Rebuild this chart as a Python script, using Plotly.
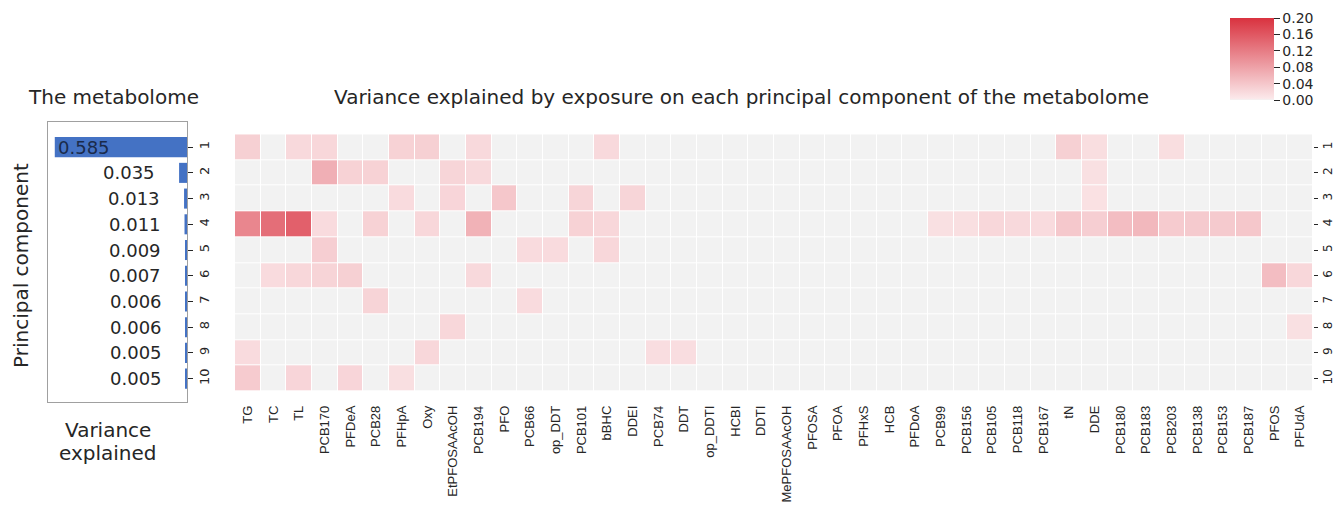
import plotly.graph_objects as go

# ---------------- data ----------------
exposures = ["TG", "TC", "TL", "PCB170", "PFDeA", "PCB28",
             "PFHpA", "Oxy", "EtPFOSAAcOH", "PCB194", "PFO", "PCB66",
             "op_DDT", "PCB101", "bBHC", "DDEI", "PCB74", "DDT",
             "op_DDTI", "HCBI", "DDTI", "MePFOSAAcOH", "PFOSA", "PFOA",
             "PFHxS", "HCB", "PFDoA", "PCB99", "PCB156", "PCB105",
             "PCB118", "PCB167", "tN", "DDE", "PCB180", "PCB183",
             "PCB203", "PCB138", "PCB153", "PCB187", "PFOS", "PFUdA"]

components = [1, 2, 3, 4, 5, 6, 7, 8, 9, 10]
variance_explained = [0.585, 0.035, 0.013, 0.011, 0.009, 0.007, 0.006, 0.006, 0.005, 0.005]
variance_labels = ["0.585", "0.035", "0.013", "0.011", "0.009", "0.007", "0.006", "0.006", "0.005", "0.005"]

pc1 = [.030, 0, .020, .022, 0, 0,
       .028, .030, 0, .020, 0, 0,
       0, 0, .020, 0, 0, 0,
       0, 0, 0, 0, 0, 0,
       0, 0, 0, 0, 0, 0,
       0, 0, .030, .015, 0, 0,
       .015, 0, 0, 0, 0, 0]
pc2 = [0, 0, 0, .065, .028, .028,
       0, 0, .025, .020, 0, 0,
       0, 0, 0, 0, 0, 0,
       0, 0, 0, 0, 0, 0,
       0, 0, 0, 0, 0, 0,
       0, 0, 0, .013, 0, 0,
       0, 0, 0, 0, 0, 0]
pc3 = [0, 0, 0, 0, 0, 0,
       .018, 0, .024, 0, .040, 0,
       0, .025, 0, .025, 0, 0,
       0, 0, 0, 0, 0, 0,
       0, 0, 0, 0, 0, 0,
       0, 0, 0, .012, 0, 0,
       0, 0, 0, 0, 0, 0]
pc4 = [.110, .135, .150, .018, 0, .028,
       0, .022, 0, .062, 0, 0,
       0, .028, .022, 0, 0, 0,
       0, 0, 0, 0, 0, 0,
       0, 0, 0, .013, .014, .022,
       .020, .018, .038, .032, .050, .056,
       .035, .036, .036, .040, 0, 0]
pc5 = [0, 0, 0, .032, 0, 0,
       0, 0, 0, 0, 0, .018,
       .018, 0, .022, 0, 0, 0,
       0, 0, 0, 0, 0, 0,
       0, 0, 0, 0, 0, 0,
       0, 0, 0, 0, 0, 0,
       0, 0, 0, 0, 0, 0]
pc6 = [0, .018, .022, .026, .030, 0,
       0, 0, 0, .020, 0, 0,
       0, 0, 0, 0, 0, 0,
       0, 0, 0, 0, 0, 0,
       0, 0, 0, 0, 0, 0,
       0, 0, 0, 0, 0, 0,
       0, 0, 0, 0, .050, .022]
pc7 = [0, 0, 0, 0, 0, .026,
       0, 0, 0, 0, 0, .018,
       0, 0, 0, 0, 0, 0,
       0, 0, 0, 0, 0, 0,
       0, 0, 0, 0, 0, 0,
       0, 0, 0, 0, 0, 0,
       0, 0, 0, 0, 0, 0]
pc8 = [0, 0, 0, 0, 0, 0,
       0, 0, .022, 0, 0, 0,
       0, 0, 0, 0, 0, 0,
       0, 0, 0, 0, 0, 0,
       0, 0, 0, 0, 0, 0,
       0, 0, 0, 0, 0, 0,
       0, 0, 0, 0, 0, .013]
pc9 = [.018, 0, 0, 0, 0, 0,
       0, .022, 0, 0, 0, 0,
       0, 0, 0, 0, .016, .016,
       0, 0, 0, 0, 0, 0,
       0, 0, 0, 0, 0, 0,
       0, 0, 0, 0, 0, 0,
       0, 0, 0, 0, 0, 0]
pc10 = [.035, 0, .024, 0, .024, 0,
        .014, 0, 0, 0, 0, 0,
        0, 0, 0, 0, 0, 0,
        0, 0, 0, 0, 0, 0,
        0, 0, 0, 0, 0, 0,
        0, 0, 0, 0, 0, 0,
        0, 0, 0, 0, 0, 0]

colorbar_ticks = [0.0, 0.04, 0.08, 0.12, 0.16, 0.20]

z = [pc1, pc2, pc3, pc4, pc5, pc6, pc7, pc8, pc9, pc10]

# ---------------- layout helpers ----------------
# the page body margin is removed (post_script below), so the figure
# fills the 1335x508 window exactly
W, H = 1335, 508
def px_x(p):
    return p / W
def px_y(p):
    return (H - p) / H

TXT = "#262626"
FONT = "DejaVu Sans"

fig = go.Figure()

fig.add_trace(go.Bar(
    x=variance_explained, y=components, orientation="h",
    marker=dict(color="#4472c4", line=dict(width=0)),
    width=0.78,
    xaxis="x", yaxis="y", showlegend=False,
))

fig.add_trace(go.Heatmap(
    z=z, x=exposures, y=components,
    zmin=0, zmax=0.2,
    colorscale=[[0.0, "#f2f2f2"], [0.02, "#fbe8ea"], [1.0, "#d9323f"]],
    xgap=1, ygap=1,
    xaxis="x2", yaxis="y2",
    colorbar=dict(
        x=px_x(1230), xanchor="left", y=px_y(18), yanchor="top",
        len=82, lenmode="pixels", thickness=44, thicknessmode="pixels",
        tickvals=colorbar_ticks, tickformat=".2f",
        ticks="outside", ticklen=6, tickcolor=TXT,
        tickfont=dict(family=FONT, size=14, color=TXT),
        outlinewidth=0, xpad=0, ypad=0,
    ),
))

# value labels on the bar panel
annotations = []
for i, (v, lab) in enumerate(zip(variance_explained, variance_labels)):
    if i == 0:
        annotations.append(dict(text=lab, x=v, y=components[i], xref="x", yref="y",
                                showarrow=False, xanchor="left", yanchor="middle",
                                xshift=1, font=dict(family=FONT, size=18, color="#1a2a4a")))
    else:
        annotations.append(dict(text=lab, x=v, y=components[i], xref="x", yref="y",
                                showarrow=False, xanchor="right", yanchor="middle",
                                xshift=-22, font=dict(family=FONT, size=18, color=TXT)))

annotations += [
    dict(text="The metabolome", x=px_x(113), y=px_y(97), xref="paper", yref="paper",
         showarrow=False, xanchor="center", yanchor="middle",
         font=dict(family=FONT, size=20, color=TXT)),
    dict(text="Variance explained by exposure on each principal component of the metabolome",
         x=px_x(741), y=px_y(97), xref="paper", yref="paper",
         showarrow=False, xanchor="center", yanchor="middle",
         font=dict(family=FONT, size=20, color=TXT)),
    dict(text="Principal component", x=px_x(21), y=px_y(266), xref="paper", yref="paper",
         showarrow=False, xanchor="center", yanchor="middle", textangle=-90,
         font=dict(family=FONT, size=20, color=TXT)),
    dict(text="Variance", x=px_x(108), y=px_y(430), xref="paper", yref="paper",
         showarrow=False, xanchor="center", yanchor="middle",
         font=dict(family=FONT, size=20, color=TXT)),
    dict(text="explained", x=px_x(108), y=px_y(453), xref="paper", yref="paper",
         showarrow=False, xanchor="center", yanchor="middle",
         font=dict(family=FONT, size=20, color=TXT)),
]

fig.update_layout(
    width=W, height=H,
    margin=dict(l=0, r=0, t=0, b=0, autoexpand=False),
    paper_bgcolor="white", plot_bgcolor="white",
    font=dict(family=FONT, color=TXT),
    xaxis=dict(domain=[px_x(48), px_x(187)], range=[0.615, 0], automargin=False,
               showticklabels=False, showgrid=False, zeroline=False,
               showline=True, mirror=True, linecolor="#a0a0a0", linewidth=1,
               ticks="", anchor="y", fixedrange=True),
    yaxis=dict(domain=[px_y(402), px_y(122)], range=[10.91, 0.022], automargin=False,
               side="right", tickvals=components, ticks="outside", ticklen=5,
               tickcolor=TXT, tickangle=-90, showgrid=False, zeroline=False,
               showline=True, mirror=True, linecolor="#a0a0a0", linewidth=1,
               tickfont=dict(family=FONT, size=13, color=TXT), anchor="x"),
    xaxis2=dict(domain=[px_x(235), px_x(1313)], anchor="y2", automargin=False,
                tickangle=-90, showgrid=False, zeroline=False, showline=False,
                ticks="outside", ticklen=8, tickcolor="rgba(0,0,0,0)",
                tickfont=dict(family="Liberation Sans", size=13, color=TXT)),
    yaxis2=dict(domain=[px_y(391.5), px_y(134.3)], anchor="x2", automargin=False,
                range=[10.5, 0.5], side="right", tickvals=components,
                ticks="outside", ticklen=4, tickcolor=TXT, tickangle=-90,
                showgrid=False, zeroline=False, showline=False,
                tickfont=dict(family=FONT, size=12, color=TXT)),
    annotations=annotations,
)

fig.write_html("out.html",
               config={"displayModeBar": False},
               post_script="document.body.style.margin='0';document.body.style.overflow='hidden';")
